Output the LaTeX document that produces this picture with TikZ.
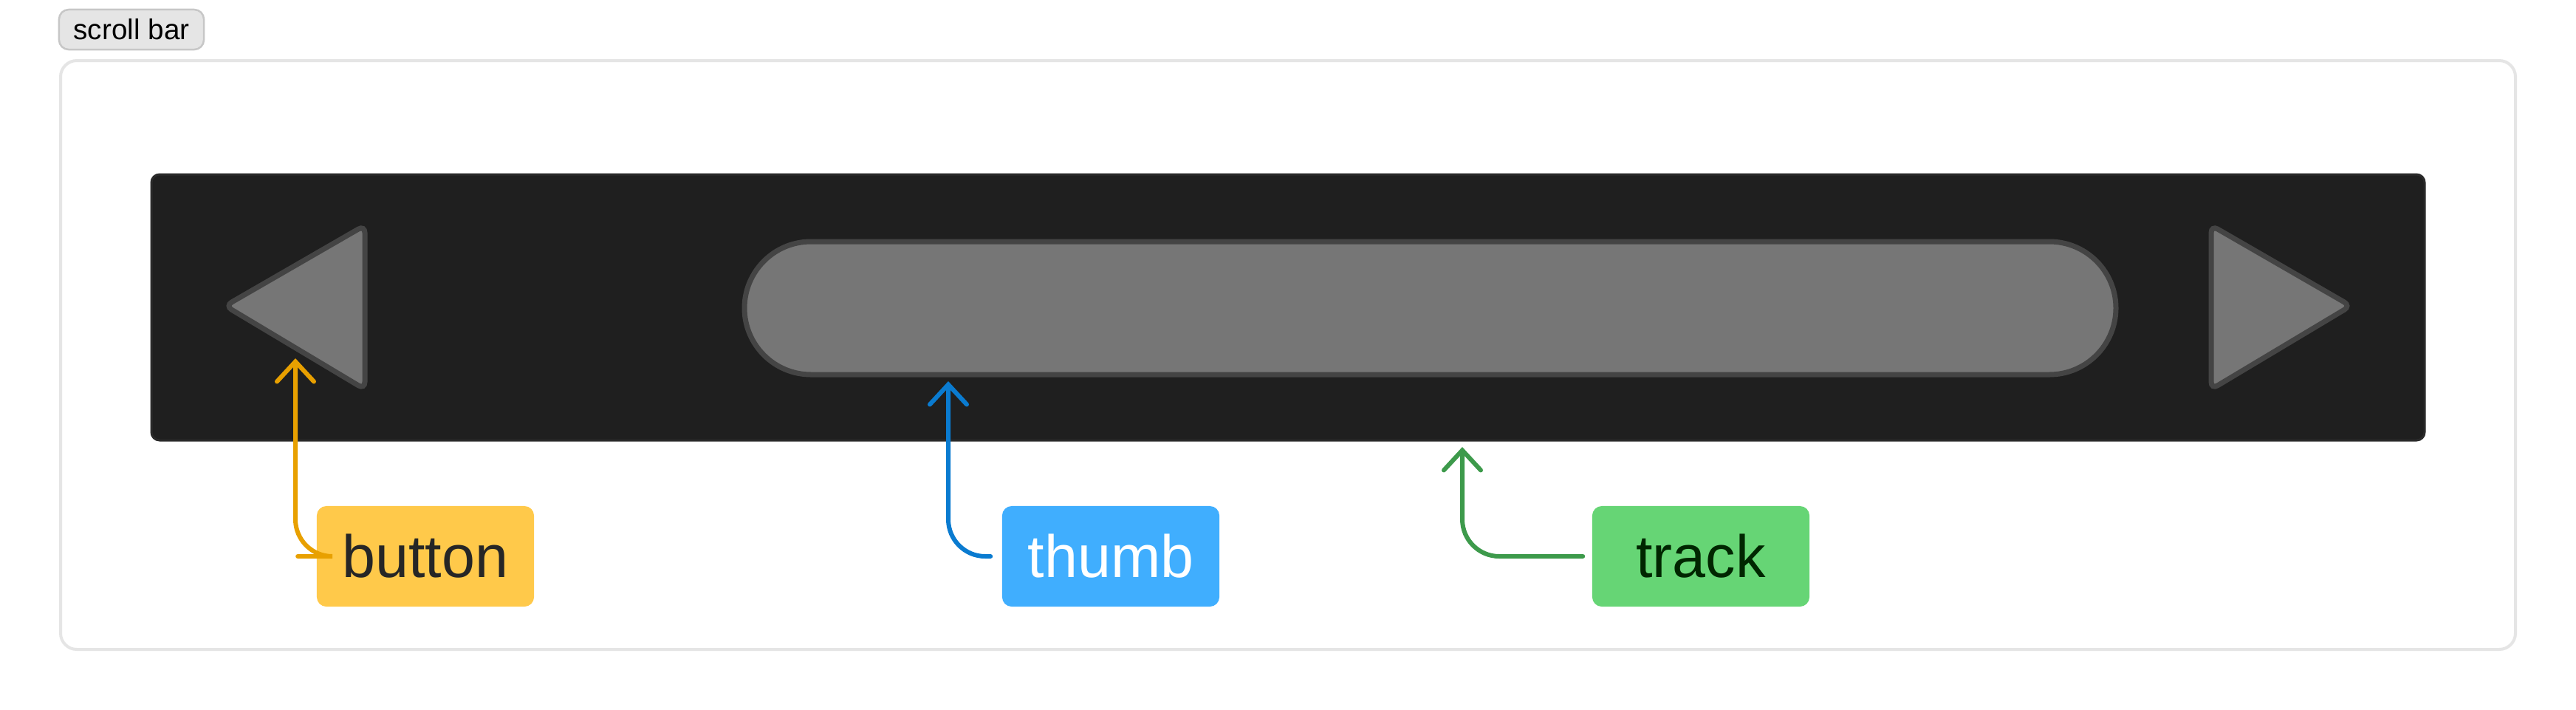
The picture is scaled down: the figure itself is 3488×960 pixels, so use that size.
\documentclass[tikz,border=0pt]{standalone}
\usepackage{fontspec}
\setmainfont{Liberation Sans}
\usetikzlibrary{arrows.meta}
\definecolor{trk}{HTML}{1F1F1F}
\definecolor{trkb}{HTML}{2A2A2A}
\definecolor{gfill}{HTML}{767676}
\definecolor{gline}{HTML}{444444}
\definecolor{yel}{HTML}{FFC94A}
\definecolor{yell}{HTML}{E8A000}
\definecolor{blu}{HTML}{40AEFE}
\definecolor{blul}{HTML}{0A7BD0}
\definecolor{grn}{HTML}{66D575}
\definecolor{grnl}{HTML}{3D9A4B}
\tikzset{
  lbl/.style={rounded corners=0.13cm, minimum width=2.94cm, minimum height=1.36cm, inner sep=0pt, font=\fontsize{23}{26}\selectfont},
  part/.style={draw=gline, fill=gfill, line width=0.07cm, rounded corners=0.1cm},
  conn/.style={line width=0.06cm, rounded corners=0.5cm, -{Straight Barb[length=0.27cm,width=0.5cm,line cap=round]}, line cap=round}
}
\begin{document}
\begin{tikzpicture}[x=0.01cm,y=-0.01cm]
\useasboundingbox (0,0) rectangle (3488,960);
\fill[white] (0,0) rectangle (3488,960);
\draw[draw=black!10, line width=0.04cm, rounded corners=0.22cm] (82,82) rectangle (3406,879);
\node[draw=black!22, fill=black!10, line width=0.025cm, rounded corners=0.13cm, minimum width=1.96cm, minimum height=0.54cm, inner sep=0pt, font=\fontsize{11}{13}\selectfont] (title) at (178,40) {scroll bar};
\draw[draw=trkb, fill=trk, line width=0.03cm, rounded corners=0.11cm] (205,236) rectangle (3283,596);
\path[part] (305,414) -- (494,305) -- (494,527) -- cycle;
\path[part] (2994,305) -- (3183,414) -- (2994,527) -- cycle;
\path[draw=gline, fill=gfill, line width=0.07cm, rounded corners=0.9cm] (1008,327) rectangle (2865,507);
\coordinate (btip) at (400,485);
\coordinate (ttip) at (1284,516);
\coordinate (rtip) at (1980,605);
\node[lbl, fill=yel, text=black!85] (button) at (576,753) {button};
\node[lbl, fill=blu, text=white] (thumb) at (1504,753) {thumb};
\node[lbl, fill=grn, text=black!85!green] (track) at (2303,753) {track};
\draw[conn, draw=yell] ([xshift=-0.25cm]button.west) -| (btip);
\draw[conn, draw=blul] ([xshift=-0.15cm]thumb.west) -| (ttip);
\draw[conn, draw=grnl] ([xshift=-0.12cm]track.west) -| (rtip);
\end{tikzpicture}
\end{document}
